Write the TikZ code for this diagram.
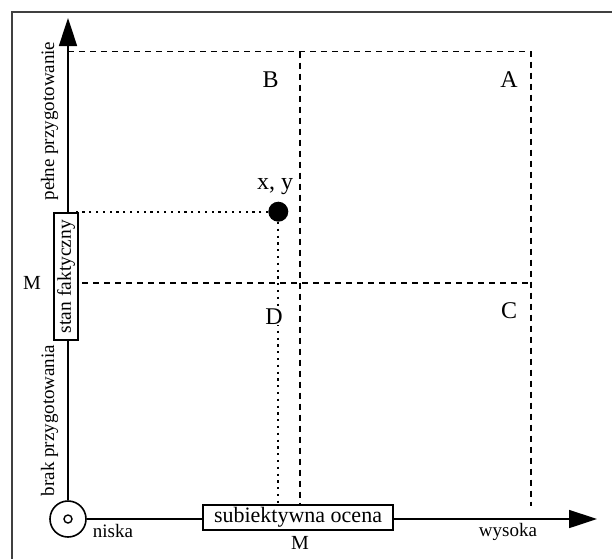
\documentclass[tikz,border=0pt]{standalone}
\usepackage{fontspec}
\setmainfont{Liberation Serif}
\usetikzlibrary{arrows.meta}
\definecolor{framecol}{HTML}{404040}
\begin{document}
\begin{tikzpicture}[x=1pt,y=-1pt,
  axis/.style={line width=1.6pt,-{Triangle[length=28pt,width=18pt]}},
  box/.style={draw,fill=white,line width=1.5pt,inner sep=0pt},
  dashline/.style={line width=1.6pt,dash pattern=on 6pt off 5pt},
  dotline/.style={line width=1.7pt,dash pattern=on 2.2pt off 4.6pt},
  lbl/.style={inner sep=0pt,anchor=base},
]
\useasboundingbox (0,0) rectangle (612,558);
\clip (0,0) rectangle (612,558);
\draw[framecol,line width=1.5pt] (12,12) rectangle (650,600);
% origin
\node[circle,draw,line width=1.6pt,minimum size=36pt,inner sep=0pt] (o) at (68,519) {};
\node[circle,draw,line width=1.4pt,minimum size=8pt,inner sep=0pt] (oi) at (68,519) {};
\coordinate (ytop) at (68,18);
\coordinate (xend) at (597,519);
\draw[axis] (o.north) -- (ytop);
\draw[axis] (o.east) -- (xend);
% dashed grid
\coordinate (tl) at (68,51.5);
\coordinate (tm) at (300,51.5);
\coordinate (tr) at (531,51.5);
\coordinate (ml) at (82,283);
\coordinate (mr) at (531,283);
\coordinate (br) at (531,506);
% boxes
\node[box,rotate=90,minimum width=127pt,minimum height=24pt,font=\fontsize{19.5}{20}\selectfont] (sf) at (66,276.5) {stan faktyczny};
\node[box,minimum width=190pt,minimum height=25pt,font=\fontsize{22}{22}\selectfont] (so) at (298,517.5) {subiektywna ocena};
\draw[dashline] (tl) -- (tr) -- (br);
\draw[dashline] (tm) -- (tm |- so.north);
\draw[dashline] (ml) -- (mr);
% point
\node[circle,fill,minimum size=20pt,inner sep=0pt] (pt) at (278.3,211.7) {};
\coordinate (dl) at (71,211.7);
\draw[dotline] (pt) -- (dl);
\draw[dotline] (pt) -- (pt |- so.north);
% labels
\node[lbl,font=\fontsize{24}{24}\selectfont] (lB) at (270.5,87) {B};
\node[lbl,font=\fontsize{24}{24}\selectfont] (lA) at (509,87) {A};
\node[lbl,font=\fontsize{24}{24}\selectfont] (lC) at (509,318) {C};
\node[lbl,fill=white,inner sep=1pt,font=\fontsize{24}{24}\selectfont] (lD) at (274,324) {D};
\node[lbl,font=\fontsize{24}{24}\selectfont] (lxy) at (275,189) {x, y};
\node[lbl,font=\fontsize{20}{20}\selectfont] (lM1) at (32,289) {M};
\node[lbl,font=\fontsize{20}{20}\selectfont] (lM2) at (300,549) {M};
\node[lbl,font=\fontsize{19}{19}\selectfont] (lniska) at (113,537) {niska};
\node[lbl,font=\fontsize{19}{19}\selectfont] (lwys) at (508,536) {wysoka};
\node[lbl,rotate=90,font=\fontsize{19}{19}\selectfont] (lpel) at (54,121) {pełne przygotowanie};
\node[lbl,rotate=90,font=\fontsize{19}{19}\selectfont] (lbrak) at (54,420.5) {brak przygotowania};
\end{tikzpicture}
\end{document}
